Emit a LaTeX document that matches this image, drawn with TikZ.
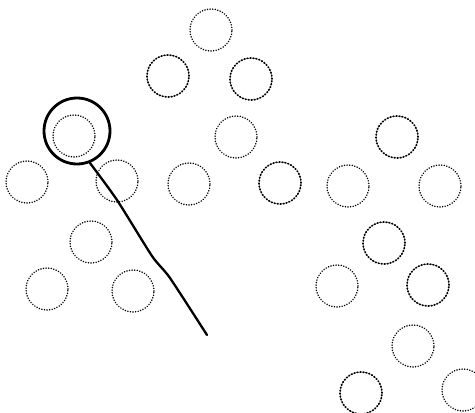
\documentclass[tikz,border=0pt]{standalone}
\begin{document}
\begin{tikzpicture}[x=1pt,y=-1pt,
  cell/.style={circle,draw=black,minimum size=42pt,inner sep=0pt,line width=1.6pt,
    dash pattern=on 0.1pt off 2.5pt,line cap=round},
  cellb/.style={cell,dash pattern=on 0.9pt off 2.1pt,line width=1.7pt},
  ring/.style={circle,draw=black,minimum size=66pt,inner sep=0pt,line width=2.8pt},
  pointer/.style={draw=black,line width=2.3pt,line join=round,line cap=round}]
\useasboundingbox (0,0) rectangle (475,413);
\node[cell] (c1) at (211,30) {};
\node[cellb] (c2) at (168,76) {};
\node[cellb] (c3) at (251,79) {};
\node[cell] (c4) at (236,137) {};
\node[cell] (c5) at (74,136) {};
\node[cell] (c6) at (27,182) {};
\node[cell] (c7) at (117,181) {};
\node[cell] (c8) at (189,184) {};
\node[cellb] (c9) at (280,183) {};
\node[cell] (c10) at (348,186) {};
\node[cellb] (c11) at (397,137) {};
\node[cell] (c12) at (440,186) {};
\node[cell] (c13) at (91,242) {};
\node[cell] (c14) at (47,289) {};
\node[cell] (c15) at (133,291) {};
\node[cellb] (c16) at (384,243) {};
\node[cell] (c17) at (337,286) {};
\node[cellb] (c18) at (428,285) {};
\node[cell] (c19) at (413,346) {};
\node[cellb] (c20) at (361,393) {};
\node[cell] (c21) at (463,390) {};
\node[ring] (big) at (77,131) {};
\coordinate (tip) at (207,335);
\draw[pointer] plot[smooth,tension=0.4] coordinates {(big.-68) (117,200) (152,256) (170,278) (tip)};
\end{tikzpicture}
\end{document}
